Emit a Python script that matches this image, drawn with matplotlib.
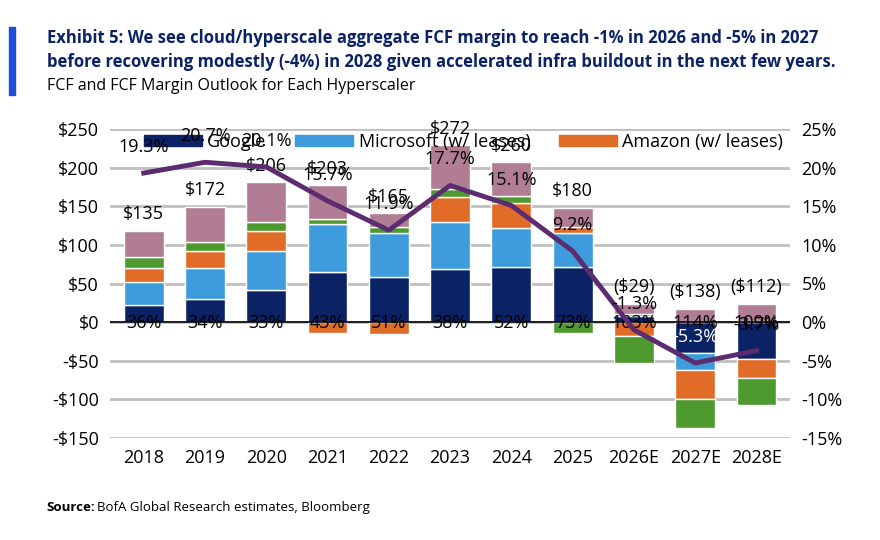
import matplotlib.pyplot as plt
import matplotlib.patches as mpatches
import numpy as np

plt.rcParams['font.family'] = ['Open Sans', 'DejaVu Sans']

years = ['2018', '2019', '2020', '2021', '2022', '2023', '2024', '2025', '2026E', '2027E', '2028E']
google = [22, 30, 41, 65, 58, 69, 71, 71, 8, -40, -48]
microsoft = [30, 40, 51, 62, 57, 61, 51, 44, 2, -22, 2]
amazon = [18, 22, 26, -14, -16, 32, 32, 8, -18, -38, -24]
meta = [14, 12, 12, 6, 8, 10, 9, -14, -35, -37, -35]
oracle = [34, 45, 51, 44, 18, 57, 44, 25, 14, 17, 22]
margin = [19.3, 20.7, 20.1, 15.7, 11.9, 17.7, 15.1, 9.2, -1.0, -5.3, -3.7]
margin_labels = ['19.3%', '20.7%', '20.1%', '15.7%', '11.9%', '17.7%', '15.1%', '9.2%', '-1.3%', '-5.3%', '-3.7%']
totals = ['$135', '$172', '$206', '$203', '$165', '$272', '$260', '$180', '($29)', '($138)', '($112)']
bottom_labels = ['36%', '34%', '33%', '43%', '51%', '38%', '52%', '73%', '103%', '114%', '109%']

series = [google, microsoft, amazon, meta, oracle]
colors = ['#0B2265', '#3E9BDC', '#E06C28', '#4E9A2F', '#B07D95']

fig = plt.figure(figsize=(8.8, 5.4), dpi=100)
ax = fig.add_axes([0.125, 0.189, 0.773, 0.572])
x = np.arange(len(years))

pos_base = np.zeros(len(years))
neg_base = np.zeros(len(years))
for vals, c in zip(series, colors):
    v = np.array(vals, dtype=float)
    b = np.where(v >= 0, pos_base, neg_base)
    ax.bar(x, v, 0.65, bottom=b, color=c, edgecolor='white', linewidth=1, zorder=3)
    pos_base = pos_base + np.where(v >= 0, v, 0)
    neg_base = neg_base + np.where(v < 0, v, 0)

ax.set_ylim(-150, 250)
ax.set_yticks(range(-150, 251, 50))
ax.set_yticklabels([f'${t}' if t >= 0 else f'-${-t}' for t in range(-150, 251, 50)])
ax.set_xlim(-0.55, len(years) - 0.45)
ax.set_xticks(x)
ax.set_xticklabels(years)
ax.grid(axis='y', color='#c0c0c0', linewidth=2, zorder=0)
ax.axhline(0, color='black', linewidth=1.2, zorder=4)
for s in ax.spines.values():
    s.set_visible(False)
ax.tick_params(length=0, labelsize=13, pad=8)

for i in range(len(years)):
    ax.text(x[i], pos_base[i] + 10, totals[i], ha='center', va='bottom', fontsize=13, zorder=6)
    ax.text(x[i], -1, bottom_labels[i], ha='center', va='center', fontsize=13, zorder=6)

ax2 = ax.twinx()
ax2.set_ylim(-15, 25)
ax2.set_yticks(range(-15, 26, 5))
ax2.set_yticklabels([f'{t}%' for t in range(-15, 26, 5)])
ax2.plot(x, margin, color='#5B2C6F', linewidth=3.5, zorder=5)
for s in ax2.spines.values():
    s.set_visible(False)
ax2.tick_params(length=0, labelsize=13, pad=8)
for i in range(len(years)):
    ax2.text(x[i], margin[i] + 2.2, margin_labels[i], ha='center', va='bottom', fontsize=13,
             color='white' if i == 9 else 'black', zorder=7)

handles = [mpatches.Patch(color=colors[0], label='Google'),
           mpatches.Patch(color=colors[1], label='Microsoft (w/ leases)'),
           mpatches.Patch(color=colors[2], label='Amazon (w/ leases)')]
ax2.legend(handles=handles, ncol=3, frameon=False, loc='upper center', bbox_to_anchor=(0.52, 1.04),
           fontsize=13, handlelength=3.2, handleheight=0.6, columnspacing=1.6, handletextpad=0.3)

fig.patches.append(mpatches.Rectangle((0.01, 0.825), 0.007, 0.125, transform=fig.transFigure,
                                      color='#1F4FD8'))
fig.text(0.053, 0.93, 'Exhibit 5: We see cloud/hyperscale aggregate FCF margin to reach -1% in 2026 and -5% in 2027',
         fontsize=12, fontweight='bold', color='#0B2265', va='center')
fig.text(0.053, 0.885, 'before recovering modestly (-4%) in 2028 given accelerated infra buildout in the next few years.',
         fontsize=12, fontweight='bold', color='#0B2265', va='center')
fig.text(0.053, 0.84, 'FCF and FCF Margin Outlook for Each Hyperscaler', fontsize=11.5, va='center')
fig.text(0.053, 0.061, 'Source:', fontsize=9.5, fontweight='bold', va='center')
fig.text(0.11, 0.061, 'BofA Global Research estimates, Bloomberg', fontsize=9.5, va='center')

fig.savefig('out.png', dpi=100)
